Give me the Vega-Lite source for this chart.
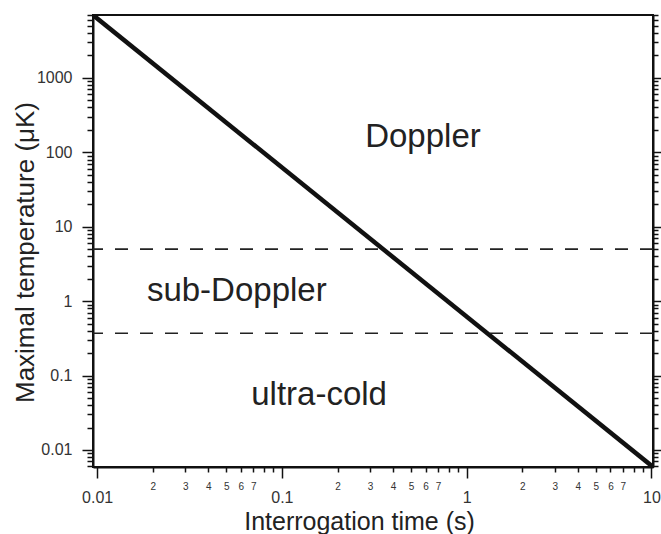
{
  "$schema": "https://vega.github.io/schema/vega-lite/v6.json",
  "width": 560,
  "height": 452,
  "autosize": {"type": "none"},
  "padding": {"left": 93, "top": 15, "right": 8, "bottom": 67},
  "background": "white",
  "config": {
    "view": {"stroke": "#111111", "strokeWidth": 2},
    "font": "Liberation Sans",
    "axis": {
      "domainColor": "#111111",
      "domainWidth": 2,
      "tickColor": "#111111",
      "tickWidth": 1.5,
      "grid": false,
      "labelFont": "Liberation Sans",
      "labelColor": "#333333",
      "titleFont": "Liberation Sans",
      "titleFontWeight": "normal",
      "titleColor": "#222222",
      "titleFontSize": 25,
      "labelOverlap": false,
      "labelFlush": false,
      "labelBound": false
    }
  },
  "datasets": {
    "limit": [{"t": 0.0095, "T": 7000}, {"t": 10.2, "T": 0.0059}],
    "regimes": [{"T": 5}, {"T": 0.37}],
    "labels": [
      {"t": 0.58, "T": 160, "label": "Doppler"},
      {"t": 0.057, "T": 1.36, "label": "sub-Doppler"},
      {"t": 0.159, "T": 0.055, "label": "ultra-cold"}
    ]
  },
  "layer": [
    {
      "data": {"name": "limit"},
      "mark": {"type": "line", "color": "#111111", "strokeWidth": 4.5, "clip": true},
      "encoding": {
        "x": {
          "field": "t",
          "type": "quantitative",
          "title": "Interrogation time (s)",
          "scale": {"type": "log", "domain": [0.0095, 10.2], "nice": false},
          "axis": {
            "orient": "bottom",
            "values": [0.01, 0.02, 0.03, 0.04, 0.05, 0.06, 0.07, 0.08, 0.09, 0.1, 0.2, 0.3, 0.4, 0.5, 0.6, 0.7, 0.8, 0.9, 1, 2, 3, 4, 5, 6, 7, 8, 9, 10],
            "labelExpr": "abs(log(datum.value)/LN10 - round(log(datum.value)/LN10)) < 0.01 ? format(datum.value, '~g') : (round(datum.value / pow(10, floor(log(datum.value)/LN10 + 1e-9))) <= 7 ? '' + round(datum.value / pow(10, floor(log(datum.value)/LN10 + 1e-9))) : '')",
            "tickSize": {"condition": {"test": "abs(log(datum.value)/LN10 - round(log(datum.value)/LN10)) < 0.01", "value": 11}, "value": 5},
            "labelFontSize": {"condition": {"test": "abs(log(datum.value)/LN10 - round(log(datum.value)/LN10)) < 0.01", "value": 16}, "value": 10},
            "labelPadding": {"condition": {"test": "abs(log(datum.value)/LN10 - round(log(datum.value)/LN10)) < 0.01", "value": 11}, "value": 9},
            "titleX": 266,
            "titleY": 62,
            "titleAlign": "center",
            "titleBaseline": "alphabetic"
          }
        },
        "y": {
          "field": "T",
          "type": "quantitative",
          "scale": {"type": "log", "domain": [0.0059, 7000], "nice": false},
          "axis": {
            "orient": "left",
            "values": [0.006, 0.007, 0.008, 0.009, 0.01, 0.02, 0.03, 0.04, 0.05, 0.06, 0.07, 0.08, 0.09, 0.1, 0.2, 0.3, 0.4, 0.5, 0.6, 0.7, 0.8, 0.9, 1, 2, 3, 4, 5, 6, 7, 8, 9, 10, 20, 30, 40, 50, 60, 70, 80, 90, 100, 200, 300, 400, 500, 600, 700, 800, 900, 1000, 2000, 3000, 4000, 5000, 6000, 7000],
            "labelExpr": "abs(log(datum.value)/LN10 - round(log(datum.value)/LN10)) < 0.01 ? format(datum.value, '~g') : ''",
            "tickSize": {"condition": {"test": "abs(log(datum.value)/LN10 - round(log(datum.value)/LN10)) < 0.01", "value": 11}, "value": 6},
            "labelFontSize": 16,
            "labelPadding": 10,
            "title": "Maximal temperature (μK)",
            "titleFontSize": 26,
            "titleX": -60,
            "titleY": 237,
            "titleAngle": -90,
            "titleAlign": "center",
            "titleBaseline": "alphabetic"
          }
        }
      }
    },
    {
      "data": {"name": "regimes"},
      "mark": {"type": "rule", "strokeDash": [13, 12], "strokeWidth": 1.7, "color": "#222222"},
      "encoding": {
        "y": {
          "field": "T",
          "type": "quantitative",
          "axis": {
            "orient": "right",
            "values": [0.006, 0.007, 0.008, 0.009, 0.01, 0.02, 0.03, 0.04, 0.05, 0.06, 0.07, 0.08, 0.09, 0.1, 0.2, 0.3, 0.4, 0.5, 0.6, 0.7, 0.8, 0.9, 1, 2, 3, 4, 5, 6, 7, 8, 9, 10, 20, 30, 40, 50, 60, 70, 80, 90, 100, 200, 300, 400, 500, 600, 700, 800, 900, 1000, 2000, 3000, 4000, 5000, 6000, 7000],
            "labels": false,
            "title": null,
            "tickSize": {"condition": {"test": "abs(log(datum.value)/LN10 - round(log(datum.value)/LN10)) < 0.01", "value": 8}, "value": 5}
          }
        }
      }
    },
    {
      "data": {"name": "labels"},
      "mark": {"type": "text", "fontSize": 33, "font": "Liberation Sans", "color": "#222222", "baseline": "middle", "align": "center"},
      "encoding": {
        "x": {"field": "t", "type": "quantitative", "title": "Interrogation time (s)"},
        "y": {"field": "T", "type": "quantitative", "axis": null},
        "text": {"field": "label"}
      }
    }
  ],
  "resolve": {"axis": {"y": "independent"}}
}
